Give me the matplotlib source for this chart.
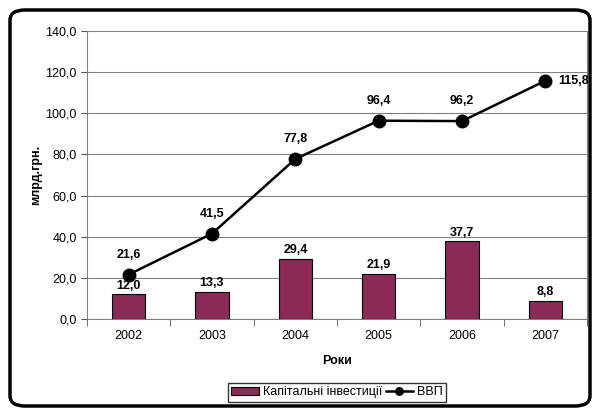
import numpy as np
import matplotlib.pyplot as plt
from matplotlib.patches import FancyBboxPatch

plt.rcParams['font.family'] = ['Liberation Sans', 'DejaVu Sans']

# дані
years = ['2002', '2003', '2004', '2005', '2006', '2007']
investments = [12.0, 13.3, 29.4, 21.9, 37.7, 8.8]
gdp = [21.6, 41.5, 77.8, 96.4, 96.2, 115.8]
yticks = [0, 20, 40, 60, 80, 100, 120, 140]

fig = plt.figure(figsize=(5.95, 4.08), dpi=100)
ax = fig.add_axes([87 / 595, 1 - 319 / 408, 500 / 595, 288 / 408])

x = np.arange(len(years))
bars = ax.bar(x, investments, width=0.4, color='#8B2A57', edgecolor='black', linewidth=0.8,
              label='Капітальні інвестиції', zorder=2)
line, = ax.plot(x, gdp, color='black', lw=1.8, marker='o', markersize=9, label='ВВП', zorder=3)

def fmt(v):
    return f'{v:.1f}'.replace('.', ',')

fs = 9
for i, v in enumerate(investments):
    ax.annotate(fmt(v), (x[i], v), xytext=(0, 2), textcoords='offset points',
                ha='center', va='bottom', fontsize=fs, fontweight='bold')
for i, v in enumerate(gdp):
    if i == len(gdp) - 1:
        ax.annotate(fmt(v), (x[i], v), xytext=(9, 0), textcoords='offset points',
                    ha='left', va='center', fontsize=fs, fontweight='bold')
    else:
        ax.annotate(fmt(v), (x[i], v), xytext=(0, 10), textcoords='offset points',
                    ha='center', va='bottom', fontsize=fs, fontweight='bold')

ax.set_xlim(-0.5, len(years) - 0.5)
ax.set_ylim(0, 140)
ax.set_yticks(yticks)
ax.set_yticklabels([fmt(v) for v in yticks], fontsize=fs)
ax.set_xticks(x)
ax.set_xticklabels(years, fontsize=fs)
ax.set_xticks(np.arange(-0.5, len(years), 1.0), minor=True)
ax.tick_params(axis='x', which='major', length=0, pad=8)
ax.tick_params(axis='x', which='minor', length=5, color='#555555')
ax.tick_params(axis='y', length=4, color='#555555')
ax.yaxis.grid(True, color='#808080', lw=0.8, zorder=0)
ax.set_axisbelow(True)
for s in ['left', 'bottom', 'right', 'top']:
    ax.spines[s].set_color('#808080')
ax.spines['top'].set_visible(False)

ax.set_xlabel('Роки', fontsize=fs, fontweight='bold', labelpad=9)
ax.set_ylabel('млрд.грн.', fontsize=fs, fontweight='bold', labelpad=2)

ax.legend([bars, line], ['Капітальні інвестиції', 'ВВП'],
          loc='lower center', bbox_to_anchor=(0.5, -0.31), ncol=2, frameon=True,
          fancybox=False, edgecolor='black', fontsize=fs, handlelength=2.2,
          columnspacing=0.3, handletextpad=0.3, borderpad=0.3, markerscale=0.6)

frame = FancyBboxPatch((10 / 595, 2 / 408), 580 / 595, 396 / 408,
                       boxstyle='round,pad=0,rounding_size=0.025',
                       transform=fig.transFigure, fill=False, lw=2.5, ec='black')
fig.patches.append(frame)

fig.savefig('out.png', dpi=100)
